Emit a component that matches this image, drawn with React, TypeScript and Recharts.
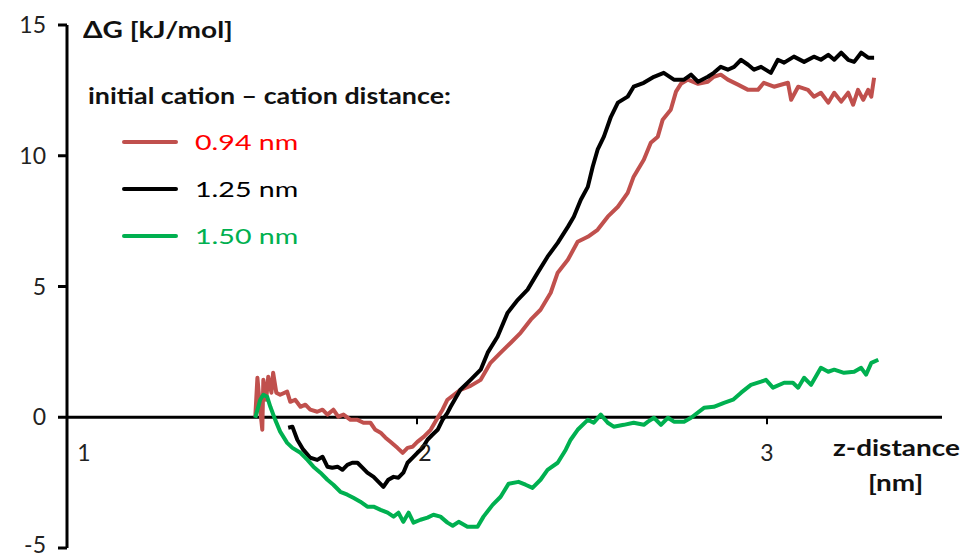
import React from "react";
import { LineChart, Line, XAxis, YAxis, ReferenceLine } from "recharts";

// z-distance [nm] and ΔG [kJ/mol] for each initial cation–cation distance
const Z_094 = [1.538, 1.544, 1.552, 1.558, 1.561, 1.569, 1.575, 1.584, 1.589, 1.598, 1.609, 1.629, 1.638, 1.652, 1.667, 1.681, 1.695, 1.715, 1.73, 1.744, 1.761, 1.775, 1.79, 1.81, 1.83, 1.847, 1.867, 1.881, 1.896, 1.91, 1.924, 1.944, 1.959, 1.973, 1.987, 2.001, 2.019, 2.039, 2.059, 2.073, 2.087, 2.124, 2.153, 2.182, 2.21, 2.239, 2.268, 2.296, 2.325, 2.353, 2.382, 2.402, 2.431, 2.459, 2.488, 2.516, 2.545, 2.574, 2.602, 2.619, 2.648, 2.668, 2.688, 2.702, 2.725, 2.74, 2.754, 2.774, 2.803, 2.831, 2.848, 2.868, 2.888, 2.917, 2.946, 2.974, 2.991, 3.02, 3.06, 3.069, 3.089, 3.117, 3.134, 3.154, 3.175, 3.192, 3.212, 3.232, 3.246, 3.26, 3.275, 3.289, 3.298, 3.306];
const G_094 = [0.02, 1.51, 0.29, -0.48, 1.43, 0.67, 1.55, 0.94, 1.7, 0.94, 0.86, 0.98, 0.59, 0.67, 0.4, 0.48, 0.29, 0.21, 0.29, 0.1, 0.29, 0.02, 0.1, -0.1, -0.1, -0.21, -0.21, -0.48, -0.59, -0.78, -0.94, -1.17, -1.36, -1.17, -1.13, -0.94, -0.75, -0.48, -0.02, 0.29, 0.67, 1.05, 1.2, 1.43, 2.08, 2.47, 2.85, 3.23, 3.73, 4.11, 4.76, 5.53, 6.02, 6.71, 6.9, 7.17, 7.67, 8.05, 8.58, 9.2, 9.85, 10.5, 10.73, 11.38, 11.76, 12.45, 12.75, 12.91, 12.75, 12.83, 13.02, 13.1, 12.91, 12.72, 12.52, 12.52, 12.79, 12.64, 12.79, 12.14, 12.64, 12.52, 12.26, 12.41, 12.03, 12.41, 12.07, 12.41, 11.95, 12.52, 12.14, 12.52, 12.26, 12.98];

const Z_125 = [1.632, 1.644, 1.658, 1.675, 1.695, 1.715, 1.73, 1.744, 1.758, 1.773, 1.787, 1.801, 1.815, 1.83, 1.844, 1.858, 1.876, 1.89, 1.904, 1.918, 1.933, 1.947, 1.961, 1.973, 1.987, 2.001, 2.016, 2.03, 2.044, 2.059, 2.073, 2.087, 2.096, 2.124, 2.153, 2.182, 2.202, 2.23, 2.259, 2.288, 2.316, 2.345, 2.373, 2.402, 2.431, 2.448, 2.468, 2.488, 2.502, 2.516, 2.534, 2.554, 2.574, 2.602, 2.619, 2.648, 2.677, 2.705, 2.734, 2.763, 2.783, 2.803, 2.831, 2.848, 2.868, 2.888, 2.906, 2.926, 2.946, 2.963, 2.983, 3.011, 3.031, 3.049, 3.077, 3.106, 3.134, 3.154, 3.175, 3.192, 3.212, 3.232, 3.249, 3.269, 3.289, 3.306];
const G_125 = [-0.4, -0.36, -0.86, -1.24, -1.55, -1.63, -1.51, -1.89, -1.93, -1.89, -2.01, -1.82, -1.74, -1.74, -1.93, -2.12, -2.28, -2.47, -2.66, -2.39, -2.28, -2.31, -2.12, -1.74, -1.55, -1.36, -1.17, -0.86, -0.67, -0.48, -0.1, 0.17, 0.4, 1.05, 1.43, 1.82, 2.47, 3.08, 4.0, 4.49, 4.88, 5.53, 6.14, 6.67, 7.28, 7.67, 8.32, 8.81, 9.58, 10.23, 10.73, 11.49, 12.03, 12.26, 12.64, 12.79, 13.02, 13.17, 12.91, 12.91, 13.1, 12.83, 13.02, 13.17, 13.4, 13.29, 13.4, 13.67, 13.48, 13.29, 13.4, 13.17, 13.67, 13.56, 13.79, 13.59, 13.79, 13.67, 13.86, 13.67, 13.94, 13.67, 13.59, 13.94, 13.75, 13.75];

const Z_150 = [1.538, 1.552, 1.561, 1.572, 1.581, 1.595, 1.609, 1.629, 1.644, 1.667, 1.687, 1.704, 1.724, 1.744, 1.761, 1.781, 1.801, 1.818, 1.838, 1.858, 1.876, 1.896, 1.916, 1.933, 1.947, 1.961, 1.976, 1.99, 2.01, 2.03, 2.047, 2.067, 2.087, 2.102, 2.119, 2.144, 2.173, 2.19, 2.216, 2.239, 2.262, 2.29, 2.31, 2.33, 2.353, 2.373, 2.402, 2.425, 2.439, 2.459, 2.488, 2.505, 2.525, 2.545, 2.562, 2.591, 2.619, 2.648, 2.66, 2.677, 2.697, 2.717, 2.734, 2.763, 2.783, 2.82, 2.848, 2.877, 2.903, 2.926, 2.954, 2.983, 2.997, 3.017, 3.049, 3.074, 3.089, 3.106, 3.126, 3.154, 3.175, 3.192, 3.22, 3.249, 3.269, 3.283, 3.298, 3.318];
const G_150 = [-0.02, 0.67, 0.86, 0.78, 0.4, -0.1, -0.55, -0.98, -1.17, -1.36, -1.63, -1.89, -2.12, -2.39, -2.58, -2.85, -2.96, -3.08, -3.23, -3.42, -3.42, -3.54, -3.65, -3.8, -3.65, -4.0, -3.65, -4.03, -3.92, -3.84, -3.73, -3.8, -4.03, -4.15, -4.0, -4.19, -4.19, -3.8, -3.35, -3.04, -2.54, -2.47, -2.58, -2.7, -2.39, -2.01, -1.74, -1.24, -0.86, -0.48, -0.1, -0.21, 0.1, -0.21, -0.36, -0.29, -0.21, -0.29, -0.17, -0.02, -0.29, -0.02, -0.17, -0.17, -0.02, 0.36, 0.4, 0.55, 0.67, 0.94, 1.24, 1.36, 1.43, 1.13, 1.32, 1.32, 1.13, 1.51, 1.24, 1.89, 1.74, 1.82, 1.7, 1.74, 1.89, 1.63, 2.08, 2.2];

const SERIES_NAMES = ["0.94 nm", "1.25 nm", "1.50 nm"];
const LINE_COLORS = ["#c0504d", "#000000", "#00b050"];
const LABEL_COLORS = ["#ff0000", "#000000", "#00b050"];
const X_TICKS = [1, 2, 3];
const Y_TICKS = [-5, 0, 5, 10, 15];

const toPoints = (zs: number[], gs: number[]) => zs.map((z, i) => ({ z, g: gs[i] }));

const SERIES = [
  toPoints(Z_094, G_094),
  toPoints(Z_125, G_125),
  toPoints(Z_150, G_150),
];

// the category labels under the zero line sit a little to the right of their ticks
const TICK_LABEL_DX: Record<number, number> = { 1: 17, 2: 8, 3: 0 };

const FONT = "Lato, 'Noto Sans', sans-serif";

// y tick labels; the lowest one is lifted a touch so it stays inside the frame
const YTick = (props: any) => {
  const { x, y, payload } = props;
  const lift = payload.value === Y_TICKS[0] ? 3 : 0;
  return (
    <text x={x} y={y - lift} dy="0.355em" textAnchor="end" fill="#222" fontSize={23} fontFamily={FONT}>
      {payload.value}
    </text>
  );
};

// captions are set a bit wider than the face's natural width
const wide = (left: number, top: number, size: number, stretch: number, extra: React.CSSProperties = {}): React.CSSProperties => ({
  position: "absolute",
  left,
  top,
  fontSize: size,
  lineHeight: 1,
  whiteSpace: "nowrap",
  transform: `scaleX(${stretch})`,
  transformOrigin: "left center",
  ...extra,
});

export default function App() {
  return (
    <div style={{ position: "absolute", left: 0, top: 0, width: 963, height: 559, background: "#fff", fontFamily: FONT, overflow: "hidden" }}>
      <LineChart width={963} height={559} margin={{ top: 25, right: 21, bottom: 11, left: 7 }}>
        <XAxis dataKey="z" type="number" domain={[1, 3.5]} hide allowDataOverflow />
        <YAxis
          dataKey="g"
          type="number"
          domain={[-5, 15]}
          ticks={Y_TICKS}
          interval={0}
          width={60}
          axisLine={{ stroke: "#000", strokeWidth: 3 }}
          tickLine={{ stroke: "#000", strokeWidth: 3 }}
          tickSize={9}
          tickMargin={12}
          tick={<YTick />}
        />
        <ReferenceLine y={0} stroke="#000" strokeWidth={3} />
        {X_TICKS.map((t) => (
          <ReferenceLine
            key={t}
            segment={[{ x: t, y: 0 }, { x: t, y: -0.27 }]}
            stroke="#000"
            strokeWidth={2}
            label={{ value: String(t), position: "bottom", offset: 20, dx: TICK_LABEL_DX[t], fill: "#222", fontSize: 23, fontFamily: FONT }}
          />
        ))}
        {SERIES.map((data, i) => (
          <Line
            key={SERIES_NAMES[i]}
            data={data}
            dataKey="g"
            name={SERIES_NAMES[i]}
            stroke={LINE_COLORS[i]}
            strokeWidth={4}
            strokeLinejoin="round"
            dot={false}
            isAnimationActive={false}
          />
        ))}
      </LineChart>

      <div style={wide(83, 18, 23, 1.22, { fontWeight: 700, color: "#111" })}>ΔG [kJ/mol]</div>

      <div style={wide(88, 85, 22, 1.22, { fontWeight: 700, color: "#111" })}>initial cation – cation distance:</div>
      {SERIES_NAMES.map((name, i) => (
        <div key={name} style={{ position: "absolute", left: 122, top: 128 + i * 47, height: 28, display: "flex", alignItems: "center" }}>
          <div style={{ width: 56, height: 4, borderRadius: 2, background: LINE_COLORS[i] }} />
          <span style={{ marginLeft: 17, fontSize: 22, lineHeight: 1, color: LABEL_COLORS[i], transform: "scaleX(1.3)", transformOrigin: "left center", whiteSpace: "nowrap" }}>
            {name}
          </span>
        </div>
      ))}

      <div style={wide(833, 437, 22, 1.27, { fontWeight: 700, color: "#111" })}>z-distance</div>
      <div style={wide(868, 472, 22, 1.27, { fontWeight: 700, color: "#111" })}>[nm]</div>
    </div>
  );
}
